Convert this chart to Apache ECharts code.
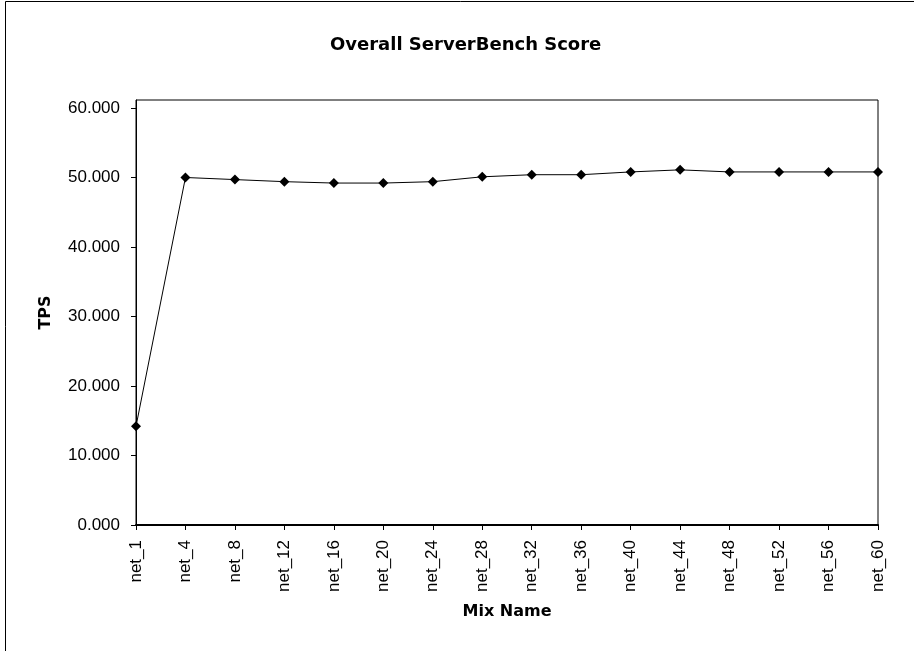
<!DOCTYPE html>
<html>
<head>
<meta charset="utf-8">
<script src="https://cdn.jsdelivr.net/npm/echarts@6/dist/echarts.min.js"></script>
<style>
  html, body { margin: 0; padding: 0; background: #fff; }
  #chart { width: 914px; height: 651px; }
</style>
</head>
<body>
<div id="chart"></div>
<script>
// Mix names along the x axis
const mixNames = ['net_1', 'net_4', 'net_8', 'net_12', 'net_16', 'net_20', 'net_24', 'net_28',
                  'net_32', 'net_36', 'net_40', 'net_44', 'net_48', 'net_52', 'net_56', 'net_60'];
// Overall score (transactions per second) for each mix
const tpsValues = [14.2, 50.0, 49.7, 49.4, 49.2, 49.2, 49.4, 50.1,
                   50.4, 50.4, 50.8, 51.1, 50.8, 50.8, 50.8, 50.8];
// Labelled y ticks
const yTicks = [0, 10, 20, 30, 40, 50, 60];

const chart = echarts.init(document.getElementById('chart'), null, { renderer: 'canvas' });

const labelFont = { fontFamily: 'Liberation Sans, Arial, sans-serif', fontSize: 17, color: '#000' };
const boldFont = 'DejaVu Sans, sans-serif';

chart.setOption({
  backgroundColor: '#fff',
  animation: false,
  title: {
    text: 'Overall ServerBench Score',
    left: 325,
    top: 31,
    textStyle: { fontFamily: boldFont, fontWeight: 'bold', fontSize: 18, color: '#000' }
  },
  graphic: [{
    type: 'rect',
    shape: { x: 5.5, y: 1.5, width: 940, height: 680 },
    style: { fill: null, stroke: '#000', lineWidth: 1 },
    silent: true
  }],
  grid: {
    left: 136, right: 36, top: 100, bottom: 126,
    show: true, borderColor: '#000', borderWidth: 1, backgroundColor: 'transparent',
    containLabel: false
  },
  xAxis: {
    type: 'category',
    data: mixNames,
    boundaryGap: false,
    name: 'Mix Name',
    nameLocation: 'middle',
    nameGap: 79,
    nameTextStyle: { fontFamily: boldFont, fontWeight: 'bold', fontSize: 16, color: '#000' },
    axisLine: { lineStyle: { color: '#000', width: 2 } },
    axisTick: { show: true, alignWithLabel: true, length: 5, inside: false, lineStyle: { color: '#000' } },
    axisLabel: Object.assign({ rotate: 90, margin: 15, interval: 0 }, labelFont),
    splitLine: { show: false }
  },
  yAxis: {
    type: 'value',
    min: 0,
    max: 61.15,
    name: 'TPS',
    nameLocation: 'middle',
    nameGap: 82,
    nameRotate: 90,
    nameTextStyle: { fontFamily: boldFont, fontWeight: 'bold', fontSize: 16, color: '#000' },
    axisLine: { show: true, lineStyle: { color: '#000', width: 1 } },
    axisTick: { show: true, length: 5, lineStyle: { color: '#000' }, customValues: yTicks },
    axisLabel: Object.assign({ margin: 16, customValues: yTicks, formatter: v => v.toFixed(3) }, labelFont),
    splitLine: { show: false }
  },
  series: [{
    type: 'line',
    data: tpsValues,
    symbol: 'diamond',
    symbolSize: 10,
    itemStyle: { color: '#000' },
    lineStyle: { color: '#000', width: 1 },
    clip: false
  }]
});
</script>
</body>
</html>
